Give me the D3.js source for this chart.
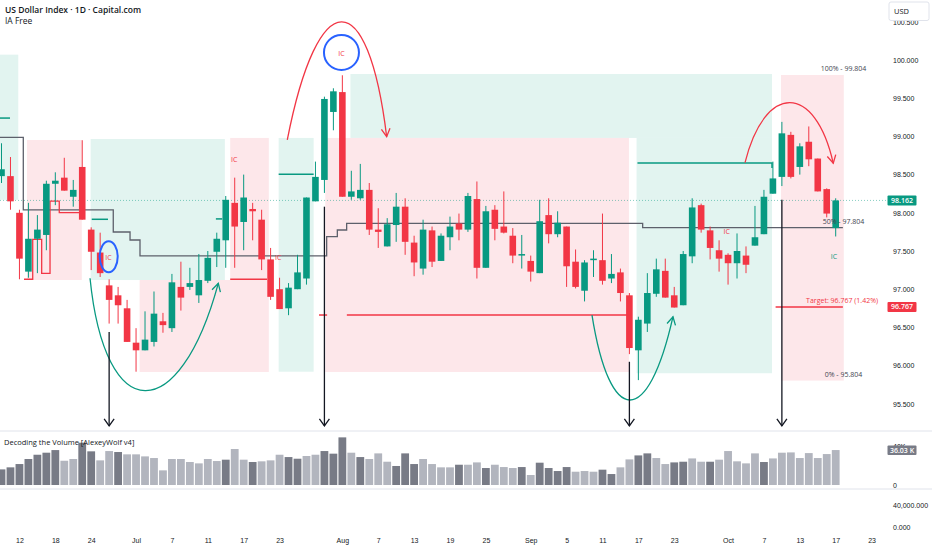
<!DOCTYPE html>
<html>
<head>
<meta charset="utf-8">
<script src="https://cdn.jsdelivr.net/npm/d3@7/dist/d3.min.js"></script>
<style>
  body { margin: 0; background: #fff; }
  svg { display: block; font-family: "Open Sans", "Noto Sans", sans-serif; }
</style>
</head>
<body>
<div id="chart"></div>
<script>
// daily bars, Jun 10 -> Oct 17 2025
const dates = [
  "06-10","06-11","06-12","06-13","06-16","06-17","06-18","06-19","06-20","06-23","06-24","06-25","06-26","06-27","06-30",
  "07-01","07-02","07-03","07-04","07-07","07-08","07-09","07-10","07-11","07-14","07-15","07-16","07-17","07-18","07-21","07-22","07-23","07-24","07-25","07-28","07-29","07-30","07-31",
  "08-01","08-04","08-05","08-06","08-07","08-08","08-11","08-12","08-13","08-14","08-15","08-18","08-19","08-20","08-21","08-22","08-25","08-26","08-27","08-28","08-29",
  "09-01","09-02","09-03","09-04","09-05","09-08","09-09","09-10","09-11","09-12","09-15","09-16","09-17","09-18","09-19","09-22","09-23","09-24","09-25","09-26","09-29","09-30",
  "10-01","10-02","10-03","10-06","10-07","10-08","10-09","10-10","10-13","10-14","10-15","10-16","10-17"
];
const opens = [
  98.48,98.48,98.00,97.23,97.66,97.71,98.38,98.46,98.21,98.60,97.78,97.48,97.05,96.92,96.75,
  96.30,96.20,96.31,96.58,96.49,97.03,97.03,96.92,97.11,97.49,97.64,98.13,97.88,98.05,97.91,97.39,97.00,96.75,97.00,97.14,98.15,98.43,99.32,
  99.58,98.21,98.19,98.30,97.78,97.56,97.84,98.08,97.61,97.27,97.77,97.37,97.68,97.86,97.78,98.18,97.28,98.04,97.82,97.70,97.44,
  97.37,97.21,97.97,97.72,97.82,97.36,96.98,97.38,97.38,97.14,97.22,96.92,96.20,96.55,96.94,97.24,96.92,96.79,97.43,98.10,97.77,97.51,
  97.45,97.34,97.44,97.57,97.72,98.25,98.47,99.02,98.60,98.93,98.71,98.31,97.80
];
const highs = [
  98.91,98.73,98.04,98.13,97.97,98.42,98.53,98.72,98.43,98.95,97.81,97.74,97.13,97.03,96.86,
  96.49,96.71,96.97,96.69,97.20,97.36,97.28,97.46,97.50,97.74,98.22,98.46,98.50,98.13,98.04,97.54,97.15,97.08,97.45,98.20,98.67,99.52,99.63,
  99.80,98.55,98.64,98.39,98.06,97.93,98.26,98.19,97.70,97.91,97.82,97.73,97.95,97.99,98.26,98.41,98.09,98.10,98.28,97.80,97.71,
  97.44,98.17,98.19,98.02,97.82,97.52,97.38,97.51,97.99,97.46,97.27,96.95,96.64,97.21,97.40,97.40,97.03,97.50,98.19,98.12,97.82,97.64,
  97.47,97.73,97.56,98.09,98.30,98.67,99.19,99.06,98.91,99.13,98.71,98.32,98.19
];
const lows = [
  98.39,98.04,97.13,97.15,97.21,97.51,98.10,98.29,98.08,97.91,97.25,97.16,96.55,96.55,96.31,
  95.92,96.20,96.25,96.43,96.44,96.72,96.99,96.82,97.08,97.29,97.28,97.28,97.51,97.64,97.25,96.86,96.74,96.66,97.00,97.06,98.15,98.26,99.08,
  98.21,98.17,98.17,97.71,97.54,97.56,97.62,97.45,97.17,97.19,97.29,97.37,97.51,97.64,97.75,97.14,97.28,97.64,97.73,97.34,97.27,
  97.10,97.21,97.60,97.68,97.03,97.01,96.84,97.16,97.06,97.08,96.84,96.15,95.81,96.44,96.90,96.89,96.76,96.79,97.34,97.74,97.39,97.23,
  97.06,97.14,97.21,97.57,97.72,98.25,98.35,98.45,98.50,98.61,98.28,97.94,97.69
];
const closes = [
  98.57,98.15,97.40,97.66,97.78,98.38,98.42,98.29,98.30,97.91,97.49,97.21,96.86,96.79,96.31,
  96.20,96.34,96.68,96.53,97.09,96.89,97.08,97.12,97.41,97.66,98.17,97.82,98.20,98.02,97.39,96.90,96.74,97.02,97.22,98.20,98.47,99.49,99.59,
  98.21,98.28,98.30,97.78,97.75,97.85,98.08,97.62,97.35,97.78,97.36,97.70,97.82,97.78,98.22,97.28,98.02,97.79,97.74,97.44,97.46,
  97.23,97.89,97.72,97.87,97.30,97.03,97.35,97.40,97.11,97.20,96.95,96.23,96.60,96.95,97.26,96.89,96.76,97.46,98.07,97.78,97.54,97.40,
  97.34,97.50,97.32,97.68,98.21,98.45,99.04,98.47,98.87,98.70,98.28,97.99,98.162
];
// volume in thousands, and the indicator's tone per bar (d = dark, l = light)
const volumes = [
  16.1,18.2,21.6,26.8,31.2,33.3,36.0,25.0,26.8,43.6,34.7,25.4,35.0,34.0,31.6,
  31.6,29.5,27.8,15.1,26.8,26.8,23.7,22.3,26.8,24.7,26.1,37.1,26.1,23.7,24.4,25.4,31.2,28.8,27.1,29.9,31.2,35.0,32.3,
  49.1,33.3,28.8,26.8,32.6,24.0,19.6,32.6,21.6,26.8,21.6,18.2,18.2,20.9,20.9,23.3,17.5,20.9,18.5,17.5,18.5,
  10.3,23.0,17.5,14.4,18.5,13.7,14.4,13.7,15.8,11.3,18.2,26.4,30.5,32.6,27.8,21.6,23.3,24.0,27.4,24.0,24.0,26.1,
  35.0,24.4,22.3,32.6,23.7,27.4,33.3,33.6,27.8,32.9,27.8,31.9,36.03
];
const volTones = (
  "ddddddd" + "llddll" + "dllllll" +
  "llllldlldlllddlldddldlllddd" +
  "lllldlldllldlddddlllddlldd" +
  "llddlldllllld"
).split("");

const priceTicks = [95.5, 96, 96.5, 97, 97.5, 98, 98.5, 99, 99.5, 100, 100.5];
const volTicks = [0, 40];
const lowerTicks = [0, 40000];
const dateTickIdx = [2, 6, 10, 15, 19, 23, 27, 31, 38, 42, 46, 50, 54, 59, 63, 67, 71, 75, 81, 85, 89, 93, 97];
const dateTickLabels = ["12","18","24","Jul","7","11","17","23","Aug","7","13","19","25","Sep","5","11","17","23","Oct","7","13","17","23"];

// drawings, in bar index / price units
const greenZones = [[-0.3, 1.87, 100.07, 98.17], [9.94, 24.9, 98.966, 97.12], [30.9, 34.8, 98.98, 95.92],
                    [38.9, 85.9, 99.817, 98.98], [70.8, 85.9, 98.98, 95.90]];
const redZones = [[2.84, 8.95, 98.953, 97.12], [15.4, 29.8, 97.12, 95.916], [25.5, 29.8, 98.98, 97.12],
                  [36.1, 69.95, 98.98, 95.916], [86.9, 93.9, 99.804, 95.804]];
const stepLine = [[-0.3, 98.988], [2.43, 98.988], [2.43, 98.037], [12.46, 98.037], [12.46, 97.749], [14.33, 97.749],
                  [14.33, 97.644], [15.44, 97.644], [15.44, 97.435], [36.25, 97.435], [36.25, 97.687], [37.44, 97.687],
                  [37.44, 97.775], [38.48, 97.775], [38.48, 97.862], [71.48, 97.862], [71.48, 97.805], [93.8, 97.805]];
const redLadder = [[2.51, 97.13], [3.48, 97.13], [3.48, 97.653], [4.48, 97.653], [4.48, 97.208], [5.41, 97.208],
                   [5.41, 98.154], [6.44, 98.154], [6.44, 98.001], [8.94, 98.001]];
const tealSegs = [[[-0.3, 99.24], [0.95, 99.24]], [[10.06, 97.915], [11.87, 97.915]], [[23.9, 97.92], [24.6, 97.92]],
                  [[30.9, 98.504], [34.8, 98.504]], [[70.9, 98.652], [85.9, 98.652], [85.9, 98.587]]];
const redSegs = [[[25.5, 97.13], [29.6, 97.13]], [[35.4, 96.662], [36.3, 96.662]], [[38.5, 96.662], [70.2, 96.662]],
                 [[86.3, 96.767], [93.8, 96.767]]];
const downArrows = [[12, 96.44], [36, 98.08], [70, 96.05], [87, 98.17]];
const arrowEnd = 95.21;
const arcs = [
  { color: "#f23645", pts: [[31.86, 98.953], [35.28, 101.008], [40.85, 101.008], [42.94, 98.996]] },
  { color: "#f23645", pts: [[82.89, 98.656], [85.11, 99.704], [90.69, 99.704], [92.73, 98.648]] },
  { color: "#089981", pts: [[9.87, 97.143], [11.54, 95.192], [19.79, 95.192], [24.17, 97.077]] },
  { color: "#089981", pts: [[65.83, 96.662], [67.84, 95.183], [72.07, 95.183], [74.86, 96.64]] }
];
const circles = [[11.95, 97.425, 9, 15.5], [37.9, 100.098, 17.5, 17.5]];
const icLabels = [[11.93, 97.408, "r"], [25.95, 98.70, "r"], [30.86, 97.417, "r"], [37.9, 100.09, "r"], [80.85, 97.753, "r"], [92.8, 97.425, "g"]];
const fibLabels = [["100% - 99.804", 99.804], ["50% - 97.804", 97.804], ["0% - 95.804", 95.804]];

const W = 932, H = 550;
const UP = "#089981", DOWN = "#f23645";

const svg = d3.select("#chart").append("svg").attr("width", W).attr("height", H);

const x = d3.scaleLinear().domain([0, 93]).range([1.5, 835.7]);
const y = d3.scaleLinear().domain([95.5, 100]).range([403.8, 60]);
const yVol = d3.scaleLinear().domain([0, 40]).range([485, 446.2]);
const yLow = d3.scaleLinear().domain([0, 40000]).range([527.7, 505]);

// zones
let zones = svg.append("g");
zones.selectAll(".gz").data(greenZones).enter().append("rect")
  .attr("x", d => x(d[0])).attr("width", d => x(d[1]) - x(d[0]))
  .attr("y", d => y(d[2])).attr("height", d => y(d[3]) - y(d[2]))
  .attr("fill", "#e2f4f0");
zones.selectAll(".rz").data(redZones).enter().append("rect")
  .attr("x", d => x(d[0])).attr("width", d => x(d[1]) - x(d[0]))
  .attr("y", d => y(d[2])).attr("height", d => y(d[3]) - y(d[2]))
  .attr("fill", "#fde7ea");

// last price dotted line
svg.append("line")
  .attr("x1", 0).attr("x2", 888)
  .attr("y1", y(closes[closes.length - 1])).attr("y2", y(closes[closes.length - 1]))
  .attr("stroke", UP).attr("stroke-opacity", 0.6).attr("stroke-width", 0.8).attr("stroke-dasharray", "1,2");

let line = d3.line().x(d => x(d[0])).y(d => y(d[1]));

svg.append("path").attr("d", line(stepLine)).attr("fill", "none").attr("stroke", "#5d606b").attr("stroke-width", 1.3);
svg.append("path").attr("d", line(redLadder)).attr("fill", "none").attr("stroke", DOWN).attr("stroke-width", 1.3);

// candles
let candles = svg.append("g").selectAll("g").data(dates).enter().append("g");
candles.append("line")
  .attr("x1", (d, i) => x(i)).attr("x2", (d, i) => x(i))
  .attr("y1", (d, i) => y(highs[i])).attr("y2", (d, i) => y(lows[i]))
  .attr("stroke", (d, i) => closes[i] >= opens[i] ? UP : DOWN).attr("stroke-width", 1);
candles.append("rect")
  .attr("x", (d, i) => x(i) - 3.3).attr("width", 6.6)
  .attr("y", (d, i) => y(Math.max(opens[i], closes[i])))
  .attr("height", (d, i) => Math.max(1, Math.abs(y(opens[i]) - y(closes[i]))))
  .attr("fill", (d, i) => closes[i] >= opens[i] ? UP : DOWN);

// drawing lines
tealSegs.forEach(s => svg.append("path").attr("d", line(s)).attr("fill", "none").attr("stroke", UP).attr("stroke-width", 1.5));
redSegs.forEach(s => svg.append("path").attr("d", line(s)).attr("fill", "none").attr("stroke", DOWN).attr("stroke-width", 1.5));

// curved arrows
arcs.forEach(a => {
  let p = a.pts.map(d => [x(d[0]), y(d[1])]);
  let path = d3.path();
  path.moveTo(p[0][0], p[0][1]);
  path.bezierCurveTo(p[1][0], p[1][1], p[2][0], p[2][1], p[3][0], p[3][1]);
  svg.append("path").attr("d", path.toString()).attr("fill", "none").attr("stroke", a.color).attr("stroke-width", 1.3);
  let ang = Math.atan2(p[3][1] - p[2][1], p[3][0] - p[2][0]);
  let head = [ang + Math.PI - 0.5, ang + Math.PI + 0.5].map(t => [p[3][0] + 9 * Math.cos(t), p[3][1] + 9 * Math.sin(t)]);
  svg.append("path").attr("d", `M${head[0]}L${p[3][0]},${p[3][1]}L${head[1]}`)
    .attr("fill", "none").attr("stroke", a.color).attr("stroke-width", 1.3);
});

// vertical arrows
downArrows.forEach(d => {
  let ax = x(d[0]), y0 = y(d[1]), y1 = y(arrowEnd);
  svg.append("line").attr("x1", ax).attr("x2", ax).attr("y1", y0).attr("y2", y1).attr("stroke", "#131722").attr("stroke-width", 1.3);
  svg.append("path").attr("d", `M${ax - 5},${y1 - 7}L${ax},${y1}L${ax + 5},${y1 - 7}`)
    .attr("fill", "none").attr("stroke", "#131722").attr("stroke-width", 1.3);
});

svg.selectAll(".circ").data(circles).enter().append("ellipse")
  .attr("cx", d => x(d[0])).attr("cy", d => y(d[1])).attr("rx", d => d[2]).attr("ry", d => d[3])
  .attr("fill", "none").attr("stroke", "#2962ff").attr("stroke-width", 2);

svg.selectAll(".ic").data(icLabels).enter().append("text")
  .attr("x", d => x(d[0])).attr("y", d => y(d[1])).attr("dy", "0.35em")
  .attr("text-anchor", "middle").attr("font-size", 7)
  .attr("fill", d => d[2] === "r" ? DOWN : UP).text("IC");

svg.selectAll(".fib").data(fibLabels).enter().append("text")
  .attr("x", 843.5).attr("y", d => y(d[1]) - 4)
  .attr("text-anchor", "middle").attr("font-size", 7).attr("fill", "#434651").text(d => d[0]);
svg.append("text").attr("x", 878).attr("y", y(96.767) - 4).attr("text-anchor", "end")
  .attr("font-size", 7).attr("fill", DOWN).text("Target: 96.767 (1.42%)");

// title
svg.append("text").attr("x", 5).attr("y", 13).attr("font-size", 8.5).attr("font-weight", 600).attr("fill", "#131722")
  .text("US Dollar Index · 1D · Capital.com");
svg.append("text").attr("x", 5).attr("y", 24).attr("font-size", 8.5).attr("fill", "#131722").text("IA Free");

// price axis
let yAxis = svg.append("g").attr("transform", "translate(891,0)")
  .call(d3.axisRight(y).tickValues(priceTicks).tickFormat(d3.format(".3f")).tickSize(0).tickPadding(2));
yAxis.select(".domain").remove();
yAxis.selectAll("text").attr("font-size", 7).attr("fill", "#131722").attr("font-family", null);

svg.append("rect").attr("x", 889).attr("y", 2).attr("width", 40).attr("height", 18.5)
  .attr("fill", "#fff").attr("stroke", "#e0e3eb").attr("rx", 2);
svg.append("text").attr("x", 894).attr("y", 13.5).attr("font-size", 7.5).attr("fill", "#131722").text("USD");

// price labels
[[closes[closes.length - 1], UP], [96.767, DOWN]].forEach(d => {
  svg.append("rect").attr("x", 887.5).attr("y", y(d[0]) - 5).attr("width", 29).attr("height", 10).attr("fill", d[1]).attr("rx", 1);
  svg.append("text").attr("x", 902).attr("y", y(d[0])).attr("dy", "0.35em").attr("text-anchor", "middle")
    .attr("font-size", 7).attr("font-weight", 600).attr("fill", "#fff").text(d3.format(".3f")(d[0]));
});

// pane separators
[431, 489].forEach(v => svg.append("line").attr("x1", 0).attr("x2", W).attr("y1", v).attr("y2", v)
  .attr("stroke", "#e0e3eb").attr("stroke-width", 1));

// volume pane
svg.append("g").selectAll("rect").data(volumes).enter().append("rect")
  .attr("x", (d, i) => x(i) - 3.9).attr("width", 7.8)
  .attr("y", d => yVol(d)).attr("height", d => yVol(0) - yVol(d))
  .attr("fill", (d, i) => volTones[i] === "d" ? "#787b86" : "#b2b5be");
svg.append("text").attr("x", 4).attr("y", 445).attr("font-size", 7.5).attr("fill", "#131722")
  .text("Decoding the Volume [AlexeyWolf v4]");

let vAxis = svg.append("g").attr("transform", "translate(891,0)")
  .call(d3.axisRight(yVol).tickValues(volTicks).tickFormat(d => d === 0 ? "0" : d + "K").tickSize(0).tickPadding(2));
vAxis.select(".domain").remove();
vAxis.selectAll("text").attr("font-size", 7).attr("fill", "#131722").attr("font-family", null);
svg.append("rect").attr("x", 887.5).attr("y", yVol(36.03) - 4.5).attr("width", 29).attr("height", 9.5).attr("fill", "#787b86").attr("rx", 1);
svg.append("text").attr("x", 902).attr("y", yVol(36.03)).attr("dy", "0.35em").attr("text-anchor", "middle")
  .attr("font-size", 7).attr("font-weight", 600).attr("fill", "#fff").text("36.03 K");

// lower empty pane
let lAxis = svg.append("g").attr("transform", "translate(891,0)")
  .call(d3.axisRight(yLow).tickValues(lowerTicks).tickFormat(d3.format(",.3f")).tickSize(0).tickPadding(2));
lAxis.select(".domain").remove();
lAxis.selectAll("text").attr("font-size", 7).attr("fill", "#131722").attr("font-family", null);

// time axis
let xAxis = svg.append("g").attr("transform", "translate(0,536)")
  .call(d3.axisBottom(x).tickValues(dateTickIdx).tickFormat((d, i) => dateTickLabels[i]).tickSize(0).tickPadding(2));
xAxis.select(".domain").remove();
xAxis.selectAll("text").attr("font-size", 7).attr("fill", "#131722").attr("font-family", null);
</script>
</body>
</html>
